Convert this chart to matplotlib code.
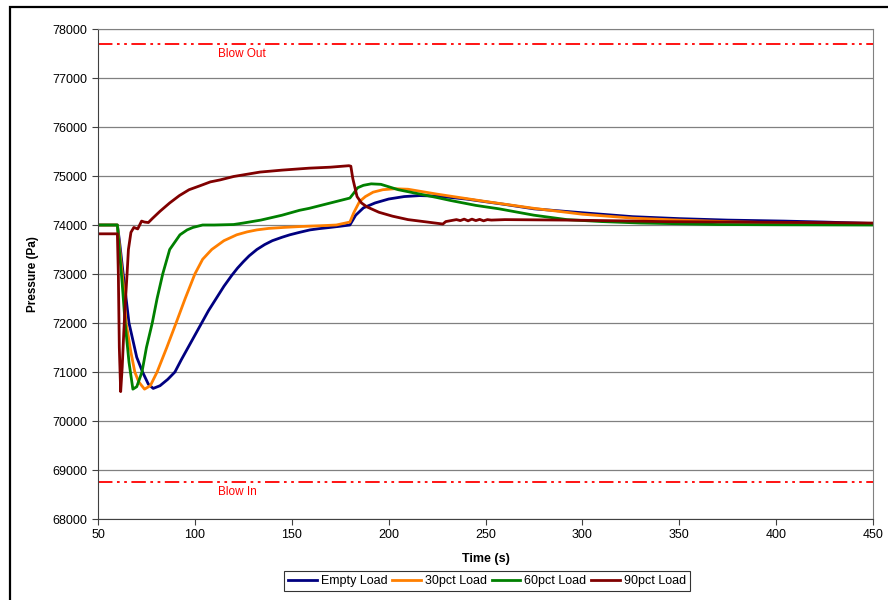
import numpy as np
import matplotlib.pyplot as plt
import matplotlib.patches as patches

plt.rcParams["font.family"] = ["Liberation Sans", "DejaVu Sans"]

# data
t_empty = [50, 60, 61, 63, 66, 70, 73, 76, 78.5, 82, 86, 89.7, 93, 96.5, 100, 103.5, 107, 111, 115,
           119, 122, 125, 128, 132, 136, 140, 145, 149, 154, 159.4, 164, 169.7, 175, 180, 183, 187,
           193, 200, 208, 216, 225, 240, 260, 275, 300, 326, 350, 375, 404, 425, 450]
p_empty = [74000, 74000, 73700, 73000, 72000, 71300, 71000, 70750, 70665, 70720, 70850, 71000, 71250,
           71500, 71750, 72000, 72250, 72500, 72750, 72970, 73120, 73250, 73370, 73500, 73600, 73680,
           73750, 73800, 73850, 73900, 73925, 73950, 73975, 74000, 74200, 74350, 74450, 74530, 74580,
           74600, 74590, 74530, 74420, 74330, 74250, 74170, 74130, 74100, 74080, 74060, 74030]

t_30 = [50, 60, 61, 63, 64.5, 67, 69, 71, 74, 77, 80.5, 85.5, 90.3, 95, 100, 104, 108.7, 115, 121.6,
        127, 132, 138, 145.7, 155, 165, 173, 180, 182, 185, 188, 192, 197, 203, 210, 225, 250, 275,
        300, 326, 350, 378, 400, 425, 450]
p_30 = [74000, 74000, 73600, 72800, 72000, 71400, 71000, 70800, 70650, 70720, 71000, 71500, 72000,
        72500, 73000, 73300, 73500, 73680, 73800, 73860, 73900, 73930, 73950, 73970, 73985, 74000,
        74060, 74250, 74480, 74580, 74670, 74720, 74740, 74730, 74630, 74480, 74340, 74220, 74140,
        74100, 74065, 74045, 74030, 74020]

t_60 = [50, 60, 61, 62.5, 64, 66, 68, 70, 72.7, 75, 78, 80.5, 83.4, 87, 92.3, 96, 99, 104, 110, 120,
        125, 134, 145, 154, 159, 170, 180, 182, 184, 187, 191, 196, 205, 215, 225, 232, 245, 257, 275,
        292, 310, 330, 344, 370, 400, 450]
p_60 = [74000, 74000, 73500, 72800, 72000, 71200, 70650, 70700, 71000, 71500, 72000, 72500, 73000,
        73500, 73800, 73900, 73950, 74000, 74000, 74010, 74040, 74100, 74200, 74300, 74340, 74450,
        74550, 74650, 74760, 74810, 74840, 74830, 74720, 74640, 74560, 74500, 74400, 74330, 74200,
        74110, 74070, 74040, 74030, 74010, 74005, 74000]

t_90 = [50, 60, 60.5, 61, 61.7, 62.5, 63.3, 64, 65, 65.7, 67, 68.5, 70.5, 72.5, 74, 76, 78, 82, 87,
        92, 97, 102.6, 108, 113, 120, 133.6, 145, 159, 170, 179.5, 180.5, 181.5, 183.7, 186, 188.8,
        195, 202, 210, 220, 228, 229.5, 235, 237, 239, 241, 243, 245, 247, 249, 251, 253, 260, 292,
        320, 344, 380, 421, 450]
p_90 = [73820, 73820, 73000, 71500, 70600, 71100, 71800, 72350, 73000, 73500, 73850, 73950, 73920,
        74080, 74060, 74050, 74130, 74280, 74450, 74600, 74720, 74800, 74880, 74920, 74990, 75080,
        75120, 75160, 75180, 75210, 75200, 74950, 74580, 74450, 74370, 74260, 74180, 74110, 74060,
        74020, 74070, 74110, 74090, 74120, 74085, 74120, 74090, 74115, 74085, 74110, 74100, 74110,
        74100, 74085, 74068, 74060, 74049, 74040]

blow_out = 77700
blow_in = 68760

series = [
    ("Empty Load", t_empty, p_empty, "#000080"),
    ("30pct Load", t_30, p_30, "#FF7F00"),
    ("60pct Load", t_60, p_60, "#008000"),
    ("90pct Load", t_90, p_90, "#800000"),
]

fig = plt.figure(figsize=(8.88, 6), dpi=100)
# outer chart border (cut off on the right and bottom like the reference)
fig.patches.append(patches.Rectangle((10 / 888, -0.05), 1.2, 1.05 - 7 / 600, transform=fig.transFigure,
                                     fill=False, edgecolor="black", linewidth=1.6, figure=fig))

ax = fig.add_axes([98 / 888, 1 - 519 / 600, 775 / 888, 490 / 600])

ax.set_xlim(50, 450)
ax.set_ylim(68000, 78000)
ax.set_xticks(np.arange(50, 451, 50))
ax.set_yticks(np.arange(68000, 78001, 1000))
ax.yaxis.grid(True, color="#808080", linewidth=0.9)
ax.set_axisbelow(True)

dd = (8, 2.5, 1.5, 2.5, 1.5, 2.5)
ax.axhline(blow_out, color="#FF0000", linewidth=1.3, dashes=dd)
ax.axhline(blow_in, color="#FF0000", linewidth=1.3, dashes=dd)
ax.text(124, 77500, "Blow Out", color="#FF0000", fontsize=8.5, ha="center", va="center")
ax.text(122, 68560, "Blow In", color="#FF0000", fontsize=8.5, ha="center", va="center")

for name, t, p, c in series:
    ax.plot(t, p, color=c, linewidth=2.0, label=name)

for s in ["top", "right"]:
    ax.spines[s].set_color("#808080")
for s in ["left", "bottom"]:
    ax.spines[s].set_color("#404040")
ax.tick_params(direction="out", length=4, labelsize=9, color="#404040")

ax.set_xlabel("Time (s)", fontsize=9, fontweight="bold", labelpad=8)
ax.set_ylabel("Pressure (Pa)", fontsize=8.5, fontweight="bold", labelpad=10)

leg = fig.legend(loc="center", bbox_to_anchor=(487 / 888, 1 - 581 / 600), ncol=4, fontsize=9,
                 frameon=True, fancybox=False, handlelength=2.3, columnspacing=0.4,
                 handletextpad=0.3, borderpad=0.3)
leg.get_frame().set_edgecolor("black")
leg.get_frame().set_linewidth(0.8)

fig.savefig("out.png", dpi=100)
